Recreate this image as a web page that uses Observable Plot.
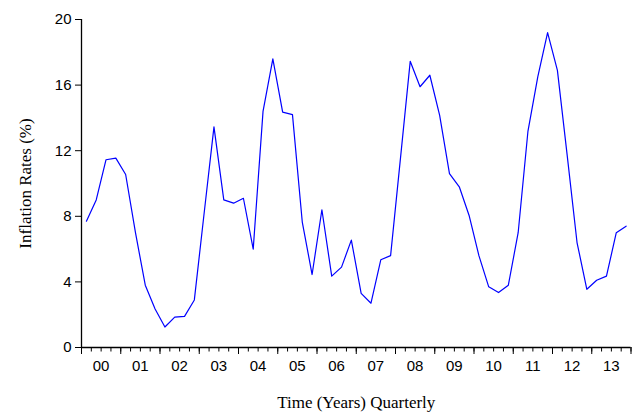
<!DOCTYPE html>
<html>
<head>
<meta charset="utf-8">
<script src="https://cdn.jsdelivr.net/npm/d3@7"></script>
<script src="https://cdn.jsdelivr.net/npm/@observablehq/plot@0.6"></script>
<style>
  html, body { margin: 0; padding: 0; background: #fff; }
</style>
</head>
<body>
<div id="chart"></div>
<script>
// Quarterly inflation rates (%), 2000Q1 .. 2013Q4
const inflation = [
  7.7, 9.0, 11.45, 11.55,
  10.55, 7.0, 3.8, 2.35,
  1.25, 1.85, 1.9, 2.9,
  8.2, 13.45, 9.0, 8.8,
  9.1, 6.0, 14.4, 17.6,
  14.35, 14.2, 7.65, 4.45,
  8.4, 4.35, 4.9, 6.55,
  3.3, 2.7, 5.35, 5.6,
  11.5, 17.45, 15.9, 16.6,
  14.15, 10.6, 9.8, 8.05,
  5.6, 3.7, 3.35, 3.8,
  7.0, 13.2, 16.5, 19.2,
  16.9, 11.7, 6.4, 3.55,
  4.1, 4.35, 7.0, 7.4
];
const startYear = 2000;
const yearLabels = ["00","01","02","03","04","05","06","07","08","09","10","11","12","13"];
const yTicks = [0, 4, 8, 12, 16, 20];
const xTitle = "Time (Years) Quarterly";
const yTitle = "Inflation Rates (%)";

const data = inflation.map((v, i) => ({t: startYear + (i + 0.5) / 4, v}));
const nYears = yearLabels.length;
const quarterTicks = d3.range(nYears * 4 + 1).map(k => startYear + k / 4);
const yearTicks = d3.range(nYears + 1).map(k => startYear + k);
const yearMids = d3.range(nYears).map(k => startYear + k + 0.5);

const chart = Plot.plot({
  width: 632,
  height: 414,
  marginLeft: 81,
  marginRight: 1.5,
  marginTop: 19,
  marginBottom: 67,
  style: {fontFamily: "Liberation Sans, Arial, sans-serif", fontSize: "15px", background: "#fff", color: "#000"},
  x: {domain: [startYear, startYear + nYears]},
  y: {domain: [0, 20]},
  marks: [
    Plot.axisY({ticks: yTicks, tickSize: 6, tickPadding: 4, fontSize: 15, label: null, stroke: "#000"}),
    Plot.axisX({ticks: quarterTicks, tickSize: 4.5, tickFormat: () => "", label: null}),
    Plot.axisX({ticks: yearTicks, tickSize: 7, tickFormat: () => "", label: null}),
    Plot.axisX({ticks: yearMids, tickSize: 0, tickPadding: 13, fontSize: 15, label: null,
      tickFormat: d => yearLabels[Math.floor(d) - startYear]}),
    Plot.ruleX([startYear], {stroke: "#000", strokeWidth: 1.3}),
    Plot.ruleY([0], {stroke: "#000", strokeWidth: 1.3}),
    Plot.line(data, {x: "t", y: "v", stroke: "#0000ff", strokeWidth: 1.2}),
    Plot.text([xTitle], {text: d => d, frameAnchor: "bottom", dy: 60, textAnchor: "middle",
      fontFamily: "Liberation Serif, Times New Roman, serif", fontSize: 17, fill: "#000"}),
    Plot.text([yTitle], {text: d => d, frameAnchor: "left", dx: -56, rotate: -90, textAnchor: "middle",
      fontFamily: "Liberation Serif, Times New Roman, serif", fontSize: 17, fill: "#000"})
  ]
});
document.getElementById("chart").appendChild(chart);
</script>
</body>
</html>
